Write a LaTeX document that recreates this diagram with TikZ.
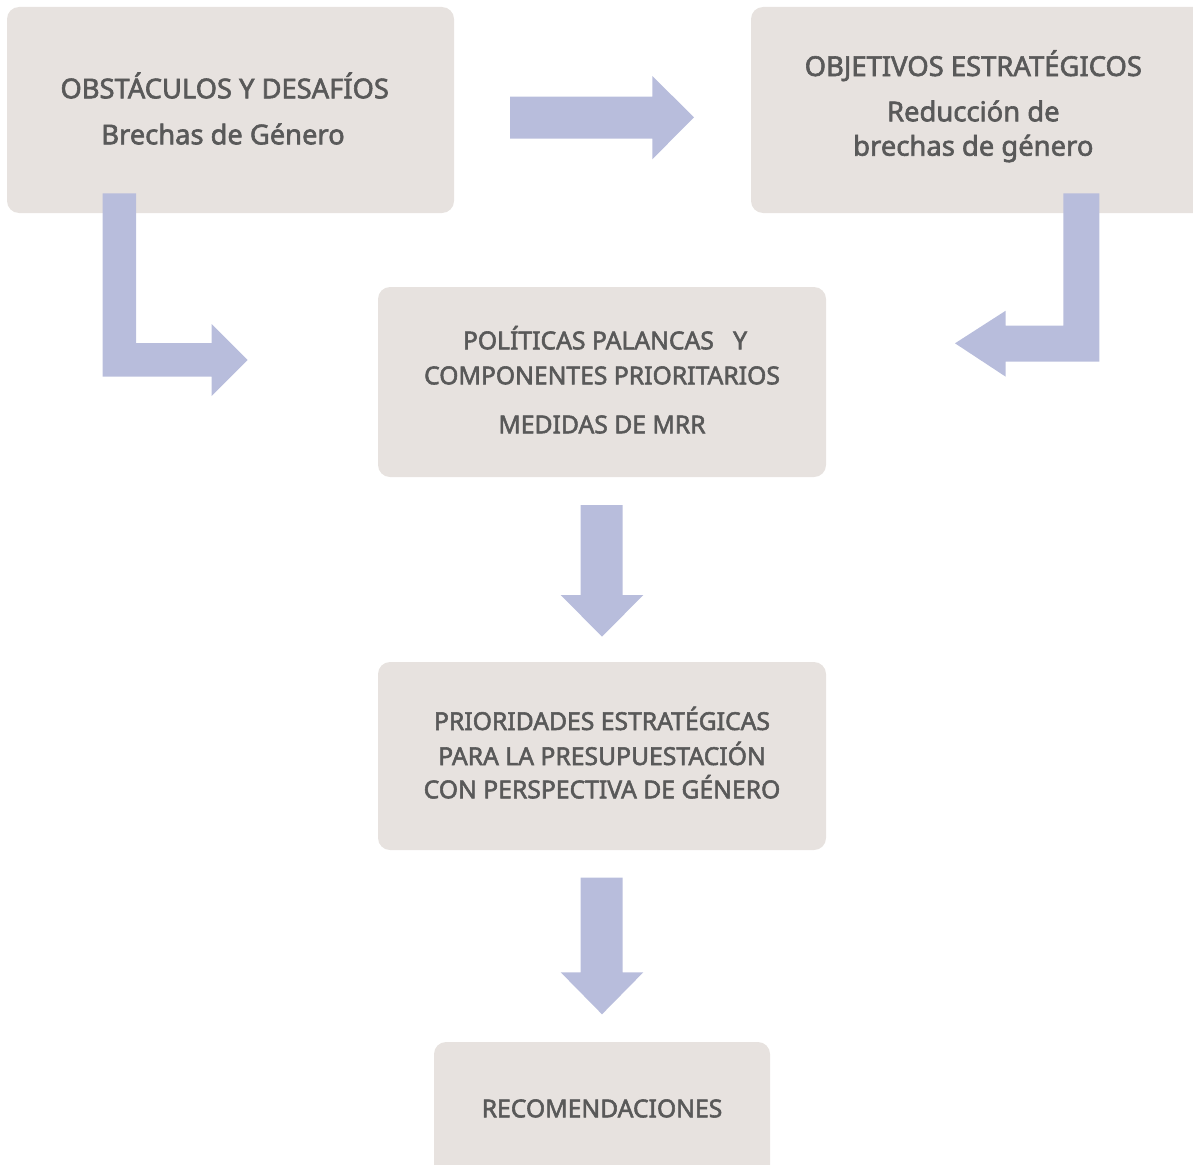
\documentclass[tikz,border=0pt]{standalone}
\usepackage{fontspec}
\setmainfont{Noto Sans}[FakeBold=2.2]
\definecolor{boxfill}{HTML}{E7E2DF}
\definecolor{txt}{HTML}{595959}
\definecolor{arr}{HTML}{B8BDDC}
\begin{document}
\begin{tikzpicture}[x=1pt,y=-1pt,
  blk/.style={draw=none,fill=boxfill,rounded corners=12pt},
  lbl/.style={anchor=base,inner sep=0pt,text=txt},
  big/.style={lbl,font=\fontsize{27.3}{30}\selectfont},
  mid/.style={lbl,font=\fontsize{27.4}{30}\selectfont},
  sml/.style={lbl,font=\fontsize{24.7}{28}\selectfont},
  barrow/.style={fill=arr,draw=none}]
\useasboundingbox (0,0) rectangle (1193,1164);
% boxes
\path[blk] (7,7) rectangle (454,213);
\coordinate (b1) at (230,110);
\path[blk] (751,7) rectangle (1205,213);
\coordinate (b2) at (972,110);
\path[blk] (378,287) rectangle (826,477);
\coordinate (b3) at (602,382);
\path[blk] (378,662) rectangle (826,850);
\coordinate (b4) at (602,756);
\path[blk] (434,1042) rectangle (770,1180);
\coordinate (b5) at (602,1103);
% texts
\node[big] (t1a) at (224.7,98.3) {OBSTÁCULOS Y DESAFÍOS};
\node[big] (t1b) at (223,144.3) {Brechas de Género};
\node[mid] (t2a) at (973.3,76) {OBJETIVOS ESTRATÉGICOS};
\node[mid] (t2b) at (973.3,121.3) {Reducción de};
\node[mid] (t2c) at (973.3,155.7) {brechas de género};
\node[sml] (t3a) at (605,349.3) {POLÍTICAS PALANCAS\ \ \ Y};
\node[sml] (t3b) at (602,384.3) {COMPONENTES PRIORITARIOS};
\node[sml] (t3c) at (602,433.3) {MEDIDAS DE MRR};
\node[sml] (t4a) at (602,730) {PRIORIDADES ESTRATÉGICAS};
\node[sml] (t4b) at (602,765) {PARA LA PRESUPUESTACIÓN};
\node[sml] (t4c) at (602,798.3) {CON PERSPECTIVA DE GÉNERO};
\node[sml] (t5a) at (602,1117.3) {RECOMENDACIONES};
% arrows
\path[barrow] (510,96.7) -- (652.3,96.7) -- (652.3,76) -- (694,117.3) -- (652.3,159.3) -- (652.3,138.7) -- (510,138.7) -- cycle;
\path[barrow] (102.7,193.3) -- (136,193.3) -- (136,343) -- (211.7,343) -- (211.7,324) -- (247.7,360) -- (211.7,396) -- (211.7,376.7) -- (102.7,376.7) -- cycle;
\path[barrow] (1063.3,193.3) -- (1099.3,193.3) -- (1099.3,361.7) -- (1005.7,361.7) -- (1005.7,376.7) -- (955,343.3) -- (1005.7,310.7) -- (1005.7,325.7) -- (1063.3,325.7) -- cycle;
\path[barrow] (580.7,505) -- (622.7,505) -- (622.7,595) -- (643.3,595) -- (602,636.7) -- (560.7,595) -- (580.7,595) -- cycle;
\path[barrow] (580.7,877.7) -- (622.7,877.7) -- (622.7,972.3) -- (643.3,972.3) -- (602,1014.3) -- (560.7,972.3) -- (580.7,972.3) -- cycle;
\end{tikzpicture}
\end{document}
